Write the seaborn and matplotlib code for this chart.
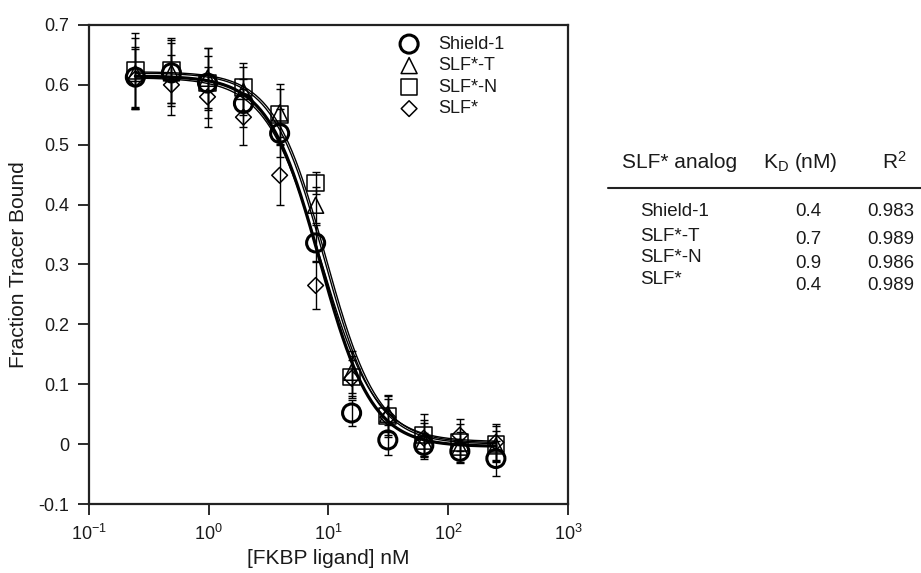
import numpy as np
import pandas as pd
import seaborn as sns
import matplotlib
matplotlib.use('Agg')
import matplotlib.pyplot as plt
from matplotlib.lines import Line2D

# concentrations (nM), twofold dilution series
conc = [0.244, 0.488, 0.977, 1.95, 3.91, 7.81, 15.6, 31.3, 62.5, 125, 250]

analogs = ['Shield-1', 'SLF*-T', 'SLF*-N', 'SLF*']

shield1 = [0.613, 0.620, 0.603, 0.569, 0.519, 0.336, 0.052, 0.007, -0.002, -0.012, -0.024]
slf_t = [0.619, 0.620, 0.611, 0.589, 0.553, 0.399, 0.120, 0.050, 0.005, -0.005, -0.003]
slf_n = [0.624, 0.624, 0.603, 0.596, 0.551, 0.436, 0.112, 0.047, 0.015, 0.003, 0.000]
slf = [0.610, 0.600, 0.580, 0.546, 0.449, 0.265, 0.110, 0.045, 0.010, 0.015, 0.003]

err_shield1 = [0.050, 0.050, 0.045, 0.040, 0.040, 0.030, 0.022, 0.025, 0.020, 0.020, 0.030]
err_slf_t = [0.060, 0.055, 0.050, 0.040, 0.040, 0.030, 0.035, 0.030, 0.030, 0.025, 0.025]
err_slf_n = [0.062, 0.055, 0.058, 0.040, 0.050, 0.018, 0.035, 0.035, 0.035, 0.030, 0.030]
err_slf = [0.050, 0.050, 0.050, 0.047, 0.050, 0.040, 0.030, 0.030, 0.030, 0.027, 0.030]

# logistic fit parameters (top, bottom, IC50 nM, hill)
fit_top = [0.615, 0.620, 0.622, 0.612]
fit_bottom = [-0.004, 0.000, 0.002, 0.004]
fit_ic50 = [8.5, 9.2, 9.5, 8.6]
fit_hill = [2.0, 2.0, 2.0, 1.9]

# table values
kd_nm = ['0.4', '0.7', '0.9', '0.4']
r2 = ['0.983', '0.989', '0.986', '0.989']

means = [shield1, slf_t, slf_n, slf]
errs = [err_shield1, err_slf_t, err_slf_n, err_slf]

df = pd.concat([pd.DataFrame({'conc': conc, 'frac': m, 'err': e, 'analog': a})
                for a, m, e in zip(analogs, means, errs)], ignore_index=True)

xfit = np.logspace(np.log10(0.244), np.log10(250), 300)
fits = []
for a, top, bot, ic, h in zip(analogs, fit_top, fit_bottom, fit_ic50, fit_hill):
    fits.append(pd.DataFrame({'conc': xfit,
                              'frac': bot + (top - bot) / (1 + (xfit / ic) ** h),
                              'analog': a}))
df_fit = pd.concat(fits, ignore_index=True)

sns.set_style('ticks')
plt.rcParams['font.family'] = ['Liberation Sans', 'DejaVu Sans']
plt.rcParams['mathtext.fontset'] = 'custom'
plt.rcParams['mathtext.rm'] = 'Liberation Sans'
plt.rcParams['mathtext.it'] = 'Liberation Sans:italic'
txt = '#1a1a1a'

fig = plt.figure(figsize=(9.21, 5.73), dpi=100)
ax = fig.add_axes([0.0966, 0.1204, 0.5201, 0.8360])

markers = {'Shield-1': 'o', 'SLF*-T': '^', 'SLF*-N': 's', 'SLF*': 'D'}
msize = {'Shield-1': 13, 'SLF*-T': 11.5, 'SLF*-N': 12, 'SLF*': 8}
medge = {'Shield-1': 2.2, 'SLF*-T': 1.1, 'SLF*-N': 1.1, 'SLF*': 1.1}
lwidth = {'Shield-1': 2.3, 'SLF*-T': 1.0, 'SLF*-N': 1.0, 'SLF*': 1.0}

# fitted curves
for a in analogs[::-1]:
    sns.lineplot(data=df_fit[df_fit['analog'] == a], x='conc', y='frac', ax=ax,
                 color='black', lw=lwidth[a], legend=False, zorder=2)

# error bars
for a in analogs:
    d = df[df['analog'] == a]
    ax.errorbar(d['conc'], d['frac'], yerr=d['err'], fmt='none', ecolor='black',
                elinewidth=1.0, capsize=3, capthick=1.0, zorder=3)

# points
for a in ['SLF*', 'SLF*-N', 'SLF*-T', 'Shield-1']:
    d = df[df['analog'] == a]
    sns.scatterplot(data=d, x='conc', y='frac', ax=ax, marker=markers[a],
                    s=msize[a] ** 2, facecolor='none', edgecolor='black',
                    linewidth=medge[a], label=a, zorder=4)

ax.set_xscale('log')
ax.set_xlim(0.1, 1000)
ax.set_ylim(-0.1, 0.7)
ax.set_xticks([0.1, 1, 10, 100, 1000])
ax.set_xticklabels([r'$\mathregular{10^{-1}}$', r'$\mathregular{10^{0}}$',
                    r'$\mathregular{10^{1}}$', r'$\mathregular{10^{2}}$',
                    r'$\mathregular{10^{3}}$'])
ax.xaxis.set_minor_locator(matplotlib.ticker.NullLocator())
yt = [-0.1, 0, 0.1, 0.2, 0.3, 0.4, 0.5, 0.6, 0.7]
ax.set_yticks(yt)
ax.set_yticklabels(['-0.1', '0', '0.1', '0.2', '0.3', '0.4', '0.5', '0.6', '0.7'])
ax.tick_params(direction='out', length=8, width=1.3, labelsize=13, colors=txt,
               pad=6)
for sp in ax.spines.values():
    sp.set_visible(True)
    sp.set_linewidth(1.6)
    sp.set_color('#222222')

ax.set_xlabel('[FKBP ligand] nM', fontsize=15, color=txt, labelpad=4)
ax.set_ylabel('Fraction Tracer Bound', fontsize=15, color=txt, labelpad=8)

# legend order as in figure
handles, labels = ax.get_legend_handles_labels()
order = [labels.index(a) for a in analogs]
leg = ax.legend([handles[i] for i in order], [labels[i] for i in order],
                loc='upper left', bbox_to_anchor=(0.608, 1.0), frameon=False,
                fontsize=13, handletextpad=0.6, labelspacing=0.25,
                borderaxespad=0.2)
for t in leg.get_texts():
    t.set_color(txt)

# table on the right
hy = 1 - 162 / 573
fig.text(622 / 921, hy, 'SLF* analog', fontsize=15, color=txt, va='center')
fig.text(763 / 921, hy, r'K$_\mathregular{D}$ (nM)', fontsize=15, color=txt, va='center')
fig.text(882 / 921, hy, r'R$^\mathregular{2}$', fontsize=15, color=txt, va='center')
fig.add_artist(Line2D([608 / 921, 1.0], [1 - 188 / 573, 1 - 188 / 573],
                      color='#222222', lw=1.5))
row_y = [212, 236, 258, 280]
val_y = [212, 240, 263, 285]
for a, k, r, ry, vy in zip(analogs, kd_nm, r2, row_y, val_y):
    fig.text(640 / 921, 1 - ry / 573, a, fontsize=13.5, color=txt, va='center')
    fig.text(808 / 921, 1 - vy / 573, k, fontsize=13.5, color=txt, va='center', ha='center')
    fig.text(867 / 921, 1 - vy / 573, r, fontsize=13.5, color=txt, va='center')

fig.savefig('out.png', dpi=100)
